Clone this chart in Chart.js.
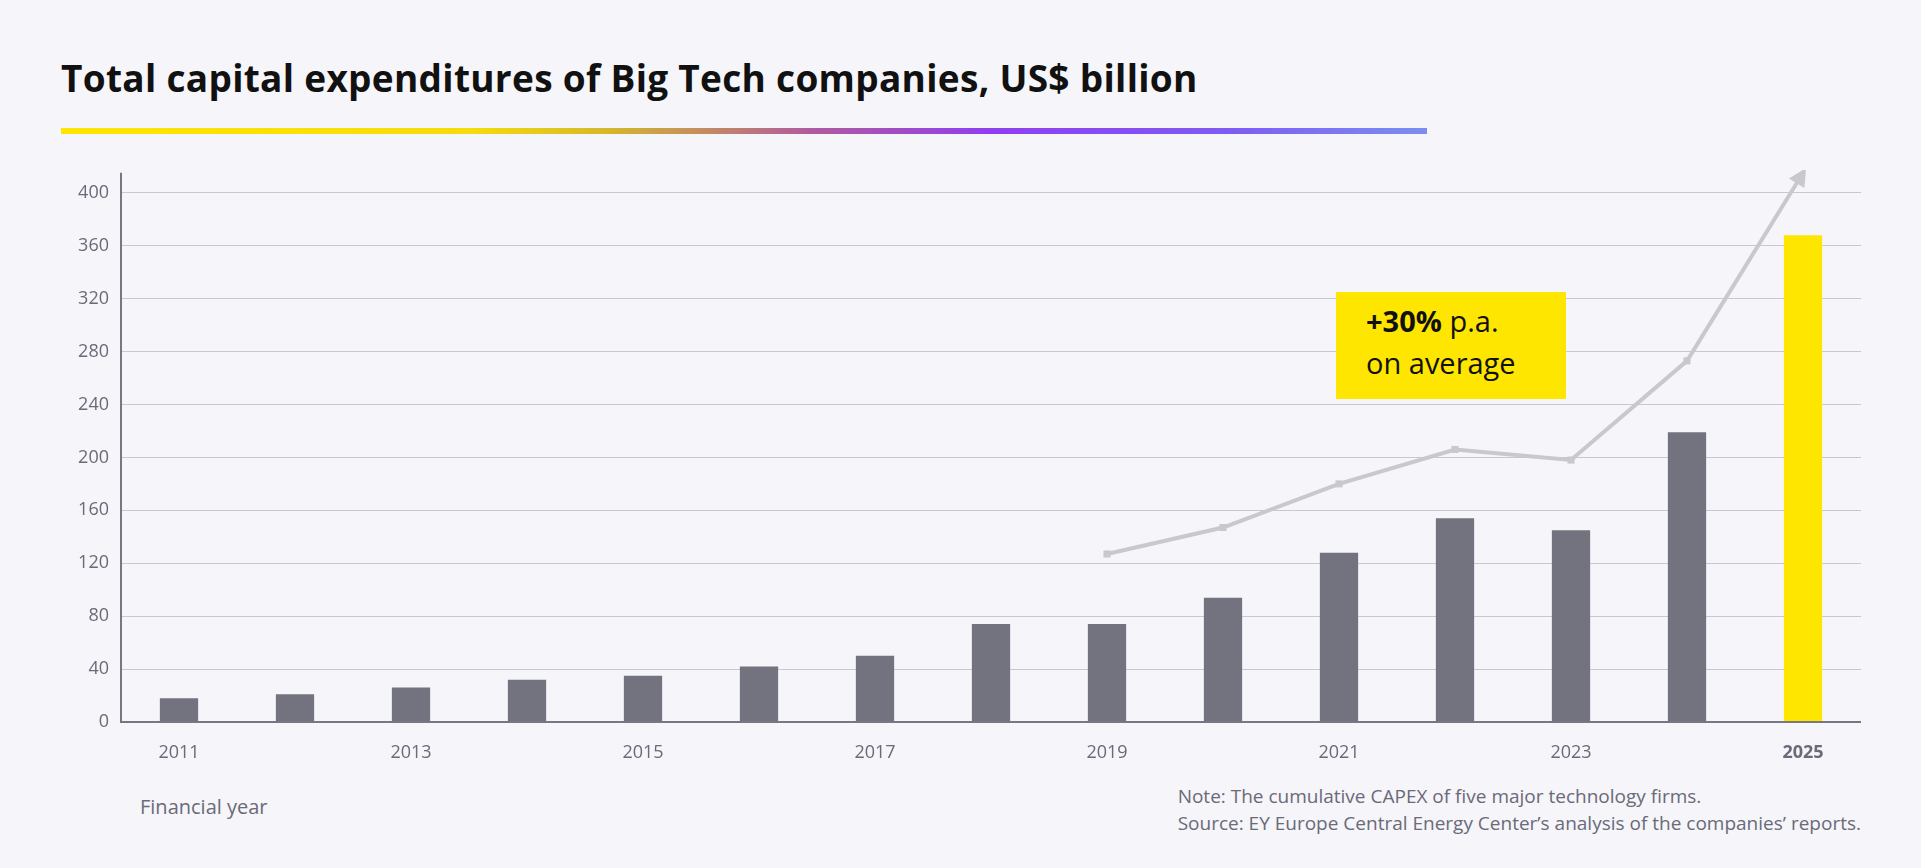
<!DOCTYPE html>
<html><head><meta charset="utf-8">
<script src="https://cdn.jsdelivr.net/npm/chart.js@4.4.0/dist/chart.umd.min.js"></script>
<style>
html,body{margin:0;padding:0;background:#f5f5fa;width:1921px;height:868px;overflow:hidden;font-family:"Open Sans",sans-serif}
#title{position:absolute;left:61px;top:52px;font:bold 37px "Open Sans",sans-serif;color:#111;letter-spacing:0.3px}
#grad{position:absolute;left:61px;top:128px;width:1366px;height:6px;background:linear-gradient(90deg,#ffe600 0%,#f5dc0a 30%,#d4b82a 40%,#b05aa0 55%,#8f3ff0 68%,#7f5af5 85%,#7a8ff0 100%)}
#wrap{position:absolute;left:70px;top:170px;width:1791px;height:592px}
#box{position:absolute;left:1336px;top:292px;width:230px;height:107px;background:#ffe600;color:#111;font:29px "Open Sans",sans-serif;line-height:42px;padding:8px 0 0 30px;box-sizing:border-box}
.lab{position:absolute;color:#6a6a78;font:19px "Open Sans",sans-serif}
</style></head><body>
<div id="title">Total capital expenditures of Big Tech companies, US$ billion</div>
<div id="grad"></div>
<div id="wrap"><canvas id="c"></canvas></div>
<div id="box"><b>+30%</b> p.a.<br>on average</div>
<div class="lab" style="left:140px;top:793px;font-size:20px">Financial year</div>
<div class="lab" style="right:60px;top:783px;text-align:left;line-height:27px">Note: The cumulative CAPEX of five major technology firms.<br>Source: EY Europe Central Energy Center’s analysis of the companies’ reports.</div>
<script>
const years=['2011','2012','2013','2014','2015','2016','2017','2018','2019','2020','2021','2022','2023','2024','2025'];
const capex=[18,21,26,32,35,42,50,74,74,94,128,154,145,219,368];
const trend=[null,null,null,null,null,null,null,null,127,147,180,206,198,273,415];
const yTicks=[0,40,80,120,160,200,240,280,320,360,400];
const barColors=capex.map((v,i)=>i===capex.length-1?'#ffe600':'#737380');
const deco={id:'deco',afterDatasetsDraw(ch){
  const c=ch.ctx,a=ch.chartArea;
  c.save();
  c.strokeStyle='#777784';c.lineWidth=2;
  c.beginPath();c.moveTo(a.left,a.top-20);c.lineTo(a.left,a.bottom);c.lineTo(a.right,a.bottom);c.stroke();
  const m=ch.getDatasetMeta(1).data;const p=m[m.length-1],q=m[m.length-2];
  const ang=Math.atan2(p.y-q.y,p.x-q.x);
  c.fillStyle='#c8c8cd';c.translate(p.x,p.y);c.rotate(ang);
  c.beginPath();c.moveTo(6,0);c.lineTo(-12,-9);c.lineTo(-12,9);c.closePath();c.fill();
  c.restore();
}};
new Chart(document.getElementById('c'),{
  data:{labels:years,datasets:[
    {type:'bar',data:capex,backgroundColor:barColors,barPercentage:0.33,categoryPercentage:1,order:2},
    {type:'line',data:trend,borderColor:'#c8c8cd',borderWidth:4,pointStyle:'rect',pointRadius:[0,0,0,0,0,0,0,0,5,5,5,5,5,5,0],pointBackgroundColor:'#c8c8cd',pointBorderWidth:0,clip:false,order:1}
  ]},
  options:{responsive:true,maintainAspectRatio:false,animation:false,
    layout:{padding:{top:14,right:0}},
    plugins:{legend:{display:false},tooltip:{enabled:false}},
    scales:{
      x:{grid:{display:false},border:{display:false},afterFit(s){s.height=40},
        ticks:{autoSkip:false,maxRotation:0,color:'#6a6a78',padding:12,
          callback:(v,i)=>i%2===0?years[i]:'',
          font:ctx=>({family:'Open Sans',size:18,weight:ctx.index===14?'bold':'normal'})}},
      y:{min:0,max:400,afterFit(s){s.width=51},border:{display:false},
        grid:{color:'#c8c8d2',lineWidth:1,drawTicks:false},
        afterBuildTicks(s){s.ticks=yTicks.map(v=>({value:v}))},
        ticks:{color:'#6a6a78',padding:12,font:{family:'Open Sans',size:18}}}
    }},
  plugins:[deco]
});
</script>
</body></html>
